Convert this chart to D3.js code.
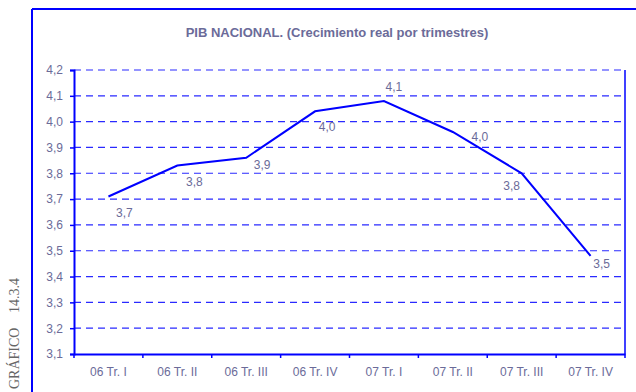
<!DOCTYPE html>
<html>
<head>
<meta charset="utf-8">
<script src="https://cdn.jsdelivr.net/npm/d3@7"></script>
<style>
  html, body { margin: 0; padding: 0; background: #fff; }
  svg { display: block; }
</style>
</head>
<body>
<svg id="chart" width="636" height="392"></svg>
<script>
// Quarterly real GDP growth (%)
const quarters = ["06 Tr. I", "06 Tr. II", "06 Tr. III", "06 Tr. IV",
                  "07 Tr. I", "07 Tr. II", "07 Tr. III", "07 Tr. IV"];
const growth = [3.71, 3.83, 3.86, 4.04, 4.08, 3.96, 3.80, 3.48];
const yTicks = [3.1, 3.2, 3.3, 3.4, 3.5, 3.6, 3.7, 3.8, 3.9, 4.0, 4.1, 4.2];

// label placement relative to each point (layout only)
const labelShift = [[16, 20], [17, 20], [16, 11], [12, 20], [10, -10], [27, 9], [-10, 17], [11, 12]];

const W = 636, H = 392;
const margin = { left: 74, right: 11, top: 70, bottom: 38 };
const svg = d3.select("#chart");
const blue = "#0000ff";
const textCol = "#6b6b99";
const comma = v => d3.format(".1f")(v).replace(".", ",");

// outer frame
svg.append("line").attr("x1", 32).attr("x2", 32).attr("y1", 9).attr("y2", H)
  .attr("stroke", blue).attr("stroke-width", 2);
svg.append("line").attr("x1", 32).attr("x2", W).attr("y1", 9).attr("y2", 9)
  .attr("stroke", blue).attr("stroke-width", 2);

// side caption
const cap = svg.append("g").attr("font-family", "'Liberation Serif', 'Times New Roman', serif")
  .attr("font-size", 14).attr("fill", "#666");
cap.append("text").attr("transform", "translate(19,313) rotate(-90)").text("14.3.4");
cap.append("text").attr("transform", "translate(19,392) rotate(-90)").attr("x", 3).text("GRÁFICO");

// title
svg.append("text")
  .attr("x", 337).attr("y", 37)
  .attr("text-anchor", "middle")
  .attr("font-family", "'Liberation Sans', Arial, sans-serif")
  .attr("font-size", 13).attr("font-weight", "bold")
  .attr("fill", textCol)
  .text("PIB NACIONAL. (Crecimiento real por trimestres)");

const x = d3.scaleBand().domain(quarters).range([margin.left, W - margin.right]);
const y = d3.scaleLinear().domain([3.1, 4.2]).range([H - margin.bottom, margin.top]);

// dashed gridlines
svg.append("g").selectAll("line").data(yTicks.filter(t => t > 3.1)).join("line")
  .attr("x1", margin.left).attr("x2", W - margin.right)
  .attr("y1", d => y(d)).attr("y2", d => y(d))
  .attr("stroke", "#2a2aff").attr("stroke-width", 1.2)
  .attr("stroke-dasharray", "7,5");

// right frame edge
svg.append("line")
  .attr("x1", W - margin.right).attr("x2", W - margin.right)
  .attr("y1", margin.top).attr("y2", H - margin.bottom)
  .attr("stroke", blue).attr("stroke-width", 1.5);

// y axis
const yAxis = svg.append("g")
  .attr("transform", `translate(${margin.left},0)`)
  .call(d3.axisLeft(y).tickValues(yTicks).tickFormat(comma).tickSize(4).tickPadding(7));
yAxis.select(".domain").attr("stroke", blue).attr("stroke-width", 2);
yAxis.selectAll(".tick line").attr("stroke", blue).attr("stroke-width", 1.5);
yAxis.selectAll("text")
  .attr("font-family", "'Liberation Sans', Arial, sans-serif")
  .attr("font-size", 12).attr("fill", textCol);

// x axis with ticks at category boundaries
const xAxis = svg.append("g")
  .attr("transform", `translate(0,${H - margin.bottom})`)
  .call(d3.axisBottom(x).tickSize(0).tickPadding(13));
xAxis.select(".domain").attr("stroke", blue).attr("stroke-width", 2);
xAxis.selectAll("text")
  .attr("font-family", "'Liberation Sans', Arial, sans-serif")
  .attr("font-size", 12).attr("fill", textCol);
xAxis.append("g").selectAll("line")
  .data(quarters.map(q => x(q)).concat([x(quarters[quarters.length - 1]) + x.bandwidth()]))
  .join("line")
  .attr("x1", d => d).attr("x2", d => d).attr("y1", 0).attr("y2", 4)
  .attr("stroke", blue).attr("stroke-width", 1.5);

// growth line
const cx = (d, i) => x(quarters[i]) + x.bandwidth() / 2;
svg.append("path")
  .datum(growth)
  .attr("fill", "none").attr("stroke", blue).attr("stroke-width", 2)
  .attr("stroke-linejoin", "miter")
  .attr("d", d3.line().x(cx).y(d => y(d)));

// value labels
svg.append("g").selectAll("text").data(growth).join("text")
  .attr("x", (d, i) => cx(d, i) + labelShift[i][0])
  .attr("y", (d, i) => y(d) + labelShift[i][1])
  .attr("text-anchor", "middle")
  .attr("font-family", "'Liberation Sans', Arial, sans-serif")
  .attr("font-size", 12).attr("fill", textCol)
  .text(comma);
</script>
</body>
</html>
